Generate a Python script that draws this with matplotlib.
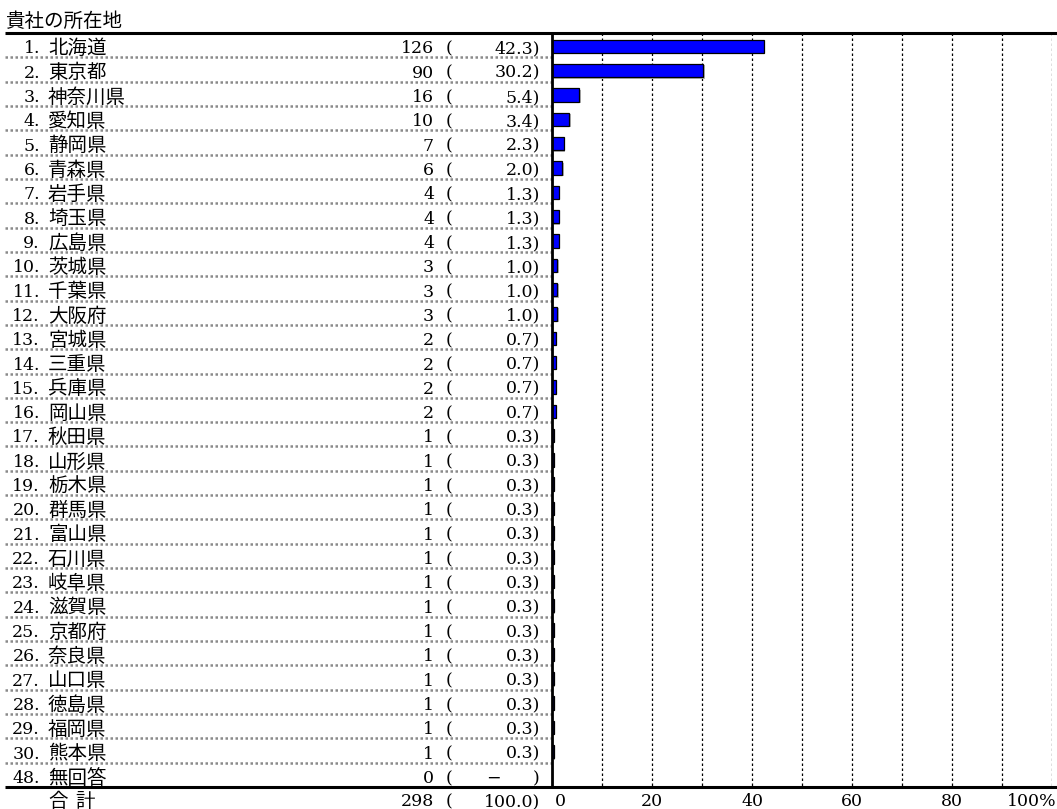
import matplotlib
matplotlib.use("Agg")
import matplotlib.pyplot as plt
import numpy as np

plt.rcParams['font.family'] = ['DejaVu Serif', 'Noto Sans CJK JP']

title = '貴社の所在地'
nums = ['1', '2', '3', '4', '5', '6', '7', '8', '9', '10', '11', '12', '13', '14', '15',
        '16', '17', '18', '19', '20', '21', '22', '23', '24', '25', '26', '27', '28', '29', '30', '48']
names = ['北海道', '東京都', '神奈川県', '愛知県', '静岡県', '青森県', '岩手県', '埼玉県', '広島県',
         '茨城県', '千葉県', '大阪府', '宮城県', '三重県', '兵庫県', '岡山県', '秋田県', '山形県',
         '栃木県', '群馬県', '富山県', '石川県', '岐阜県', '滋賀県', '京都府', '奈良県', '山口県',
         '徳島県', '福岡県', '熊本県', '無回答']
counts = [126, 90, 16, 10, 7, 6, 4, 4, 4, 3, 3, 3, 2, 2, 2, 2,
          1, 1, 1, 1, 1, 1, 1, 1, 1, 1, 1, 1, 1, 1, 0]
pcts = [42.3, 30.2, 5.4, 3.4, 2.3, 2.0, 1.3, 1.3, 1.3, 1.0, 1.0, 1.0, 0.7, 0.7, 0.7, 0.7,
        0.3, 0.3, 0.3, 0.3, 0.3, 0.3, 0.3, 0.3, 0.3, 0.3, 0.3, 0.3, 0.3, 0.3, None]
total_label = ['合', '計']
total_count = 298
total_pct = 100.0
xticks = [0, 20, 40, 60, 80, 100]
xtick_labels = ['0', '20', '40', '60', '80', '100%']

W, H = 1057, 809
fig = plt.figure(figsize=(W / 100, H / 100), dpi=100)

# bar area in pixels
x0, x1 = 552, 1052
ytop, ybot = 33, 787
ax = fig.add_axes([x0 / W, 1 - ybot / H, (x1 - x0) / W, (ybot - ytop) / H])

n = len(names)
ypos = np.arange(n)
ax.set_xlim(0, 100)
ax.set_ylim(n - 0.5, -0.5)

vals = [p if p is not None else 0 for p in pcts]
# soft shadow behind each bar
ax.barh(ypos + 0.1, vals, left=0.3, height=0.55, color='#b4b4b4', zorder=2)
ax.barh(ypos + 0.05, vals, height=0.55, color='#0000ff', edgecolor='black', linewidth=0.9, zorder=3)

ax.vlines(np.arange(10, 101, 10), -0.5, n - 0.5, colors='black', linestyles=(0, (2, 2)),
          linewidth=0.9, zorder=1)
ax.set_xticks([])
ax.set_yticks([])
for s in ['top', 'right', 'bottom']:
    ax.spines[s].set_visible(False)
ax.spines['left'].set_linewidth(2)
ax.spines['left'].set_zorder(5)


def fx(px):
    # figure pixel x -> axes fraction
    return (px - x0) / (x1 - x0)


tr = ax.get_yaxis_transform()
fd = 12.5   # digits
fk = 14     # kanji
dy = 0.15   # text sits a little low in each row

for i in range(n):
    y = i + dy
    ax.text(fx(40), y, nums[i] + '.', transform=tr, ha='right', va='center', fontsize=fd, clip_on=False)
    ax.text(fx(48), y, names[i], transform=tr, ha='left', va='center', fontsize=fk, clip_on=False)
    ax.text(fx(434), y, str(counts[i]), transform=tr, ha='right', va='center', fontsize=fd, clip_on=False)
    ax.text(fx(446), y, '(', transform=tr, ha='left', va='center', fontsize=fd, clip_on=False)
    if pcts[i] is None:
        ax.text(fx(493), y, '−', transform=tr, ha='center', va='center', fontsize=fd, clip_on=False)
        ax.text(fx(540), y, ')', transform=tr, ha='right', va='center', fontsize=fd, clip_on=False)
    else:
        ax.text(fx(540), y, '%.1f)' % pcts[i], transform=tr, ha='right', va='center', fontsize=fd, clip_on=False)

# dotted separators between rows in the text area
for i in range(n - 1):
    ax.plot([fx(5), 0], [i + 0.5, i + 0.5], transform=tr, color='#8a8a8a',
            linewidth=1.8, linestyle=(0, (1, 1)), clip_on=False)

# heavy rules at top and bottom
for yy in [-0.5, n - 0.5]:
    ax.plot([fx(5), fx(1057)], [yy, yy], transform=tr, color='black', linewidth=2.2,
            clip_on=False, zorder=6, solid_capstyle='butt')

# total row
ty = n + 0.1
ax.text(fx(48), ty, total_label[0], transform=tr, ha='left', va='center', fontsize=fk, clip_on=False)
ax.text(fx(75), ty, total_label[1], transform=tr, ha='left', va='center', fontsize=fk, clip_on=False)
ax.text(fx(434), ty, str(total_count), transform=tr, ha='right', va='center', fontsize=fd, clip_on=False)
ax.text(fx(446), ty, '(', transform=tr, ha='left', va='center', fontsize=fd, clip_on=False)
ax.text(fx(540), ty, '%.1f)' % total_pct, transform=tr, ha='right', va='center', fontsize=fd, clip_on=False)

# scale labels along the total row
for xv, lab in zip(xticks, xtick_labels):
    if xv == xticks[0]:
        ax.text(xv + 0.6, ty, lab, ha='left', va='center', fontsize=fd, clip_on=False)
    elif xv == xticks[-1]:
        ax.text(xv + 1.0, ty, lab, ha='right', va='center', fontsize=fd, clip_on=False)
    else:
        ax.text(xv, ty, lab, ha='center', va='center', fontsize=fd, clip_on=False)

fig.text(6 / W, 1 - 22 / H, title, ha='left', va='center', fontsize=fk)

fig.savefig('out.png', dpi=100)
